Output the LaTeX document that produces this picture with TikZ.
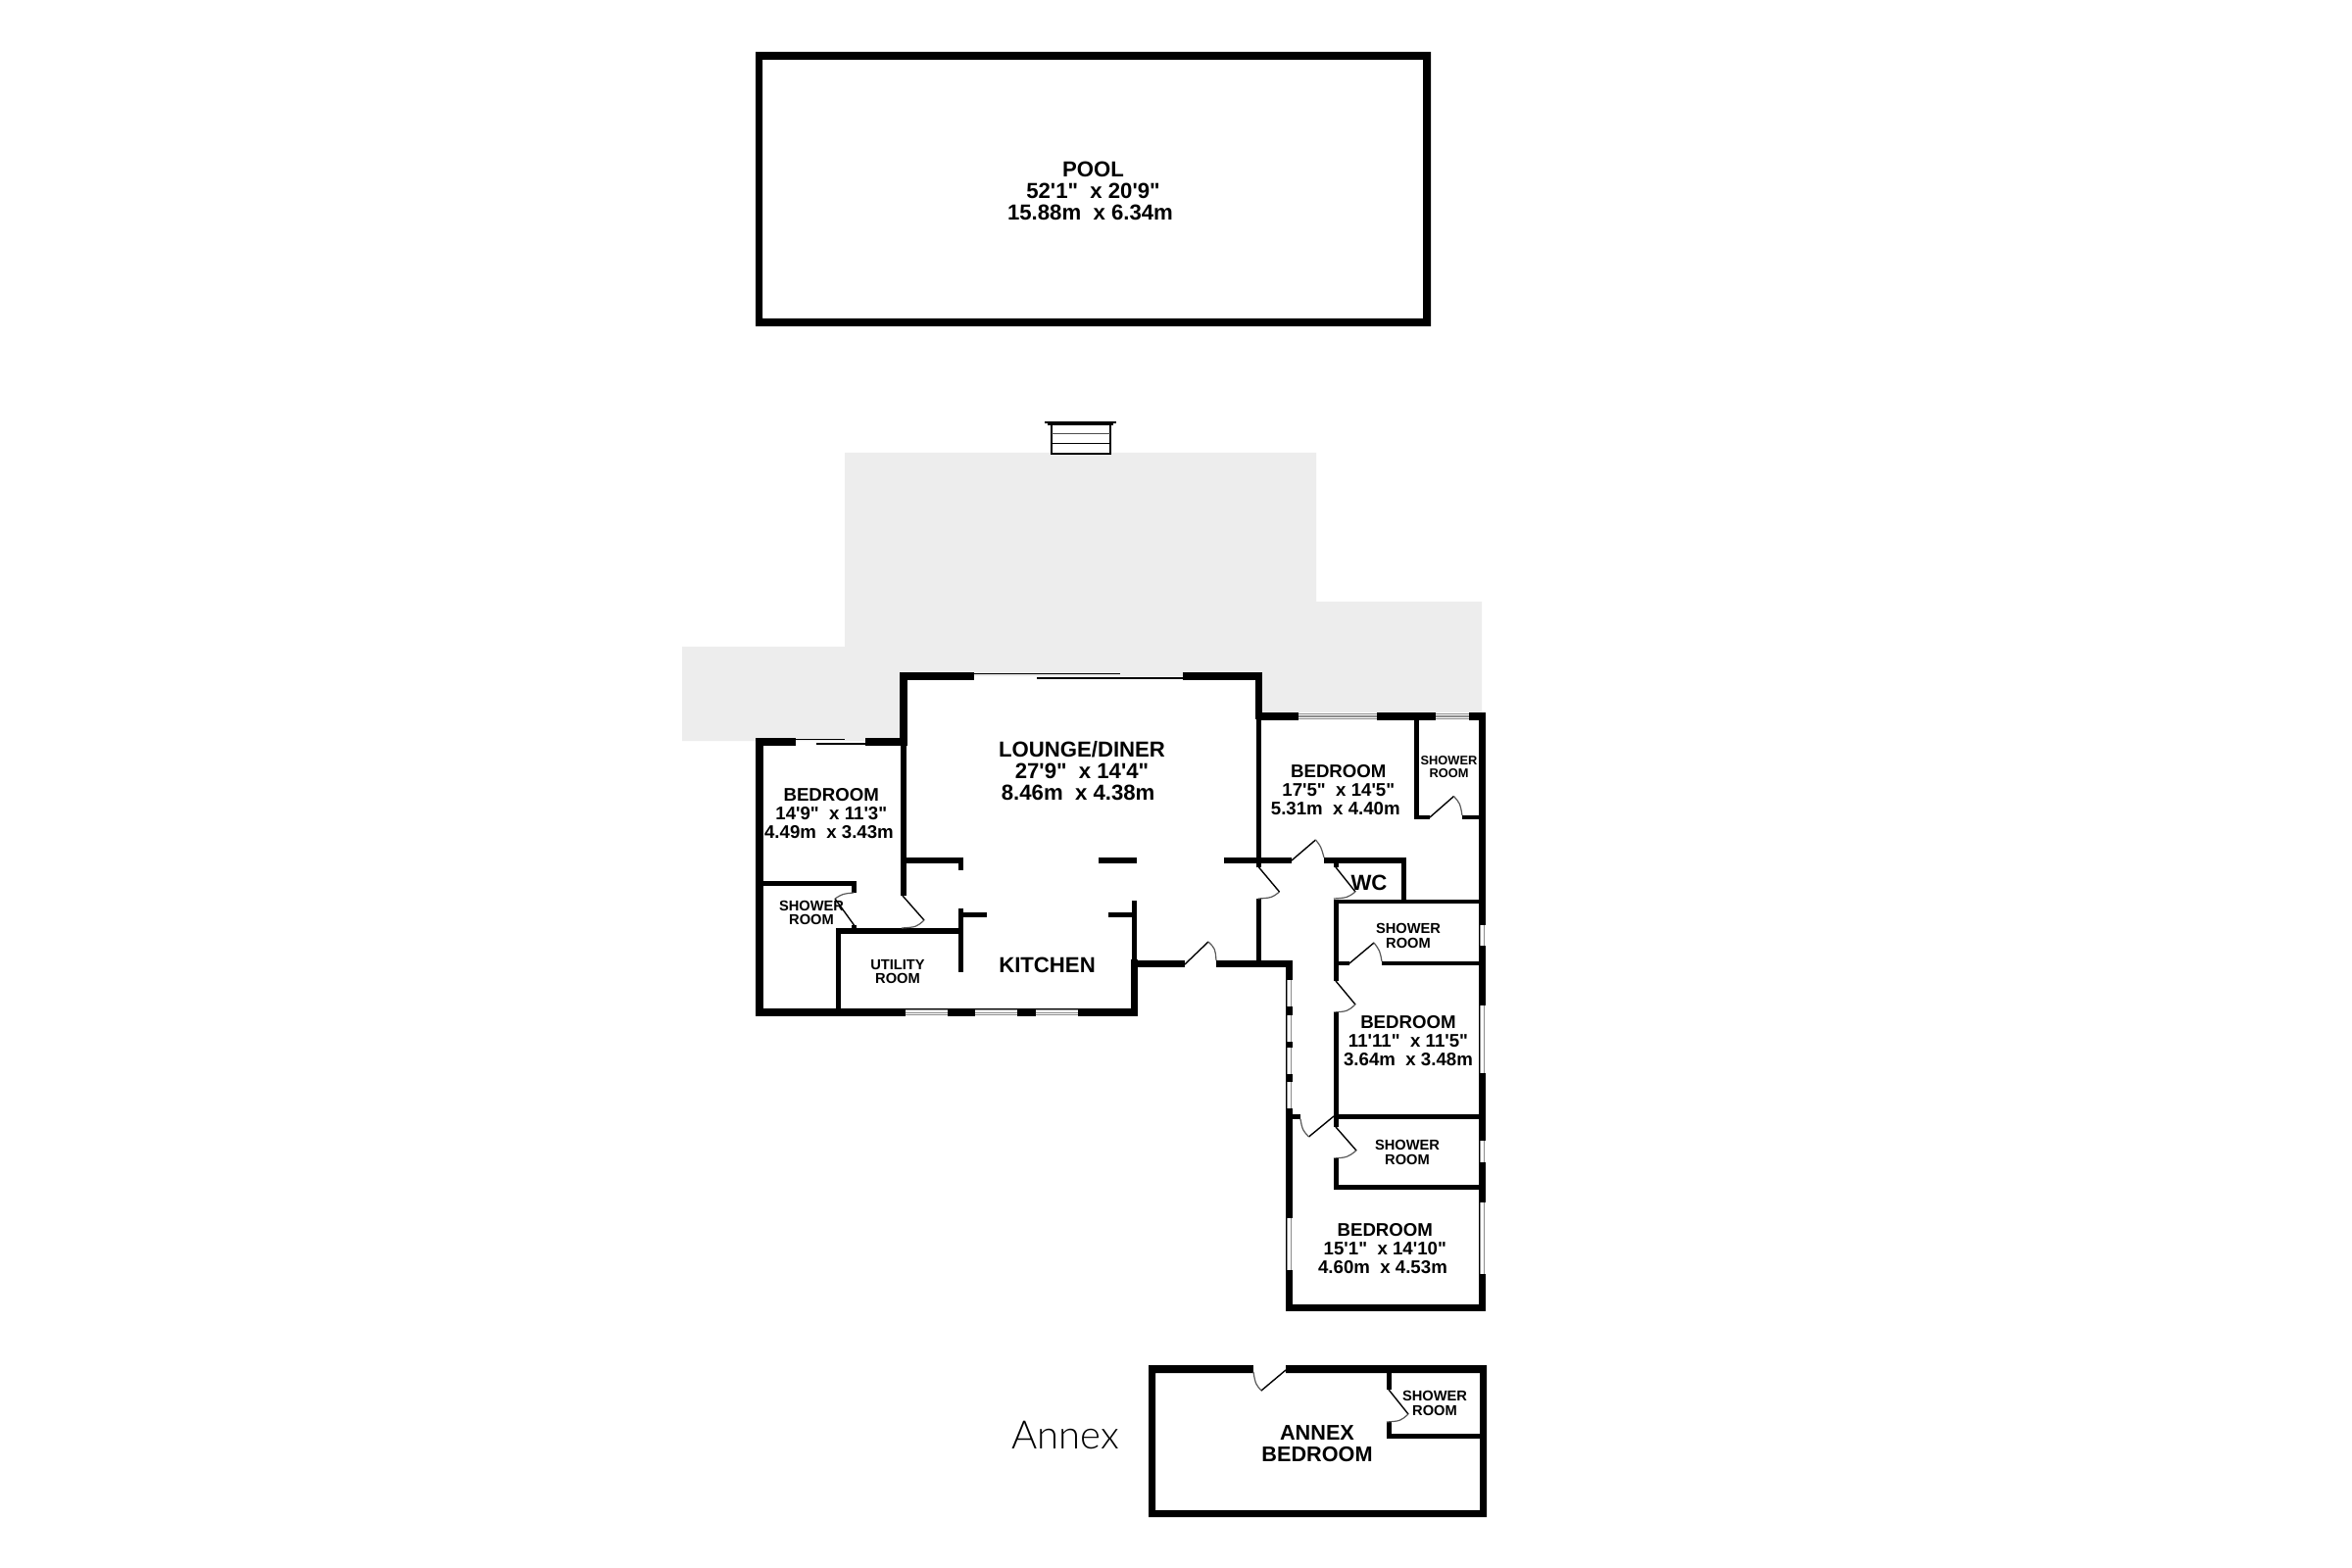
\documentclass[tikz,border=0pt]{standalone}
\usepackage{fontspec}
\newfontfamily\lab{Liberation Sans}
\newfontfamily\annexfont{Lato Light}
\definecolor{deck}{HTML}{EDEDED}
\definecolor{glass}{HTML}{8C8C8C}
% wall: x1 y1 x2 y2
\newcommand{\wl}[4]{\fill[black] (#1,#2) rectangle (#3,#4);}
% horizontal window: x1 x2 y1 y2
\newcommand{\winh}[4]{\fill[white] (#1,#3) rectangle (#2,#4);
  \draw[winline] (#1,#3+.6) -- (#2,#3+.6) (#1,{(#3+#4)/2}) -- (#2,{(#3+#4)/2}) (#1,#4-.6) -- (#2,#4-.6);}
% vertical window: y1 y2 x1 x2
\newcommand{\winv}[4]{\fill[white] (#3,#1) rectangle (#4,#2);
  \draw[winline] (#3+.6,#1) -- (#3+.6,#2) (#4-.6,#1) -- (#4-.6,#2);}
% door: hinge, tip, end, bulge control
\newcommand{\dr}[8]{\draw[doorleaf] (#1,#2) -- (#3,#4);
  \draw[doorarc] (#3,#4) .. controls (#7,#8) .. (#5,#6);}
% trailing pad that moves a centred line left
\newcommand{\tp}[1]{\hspace*{#1pt}}
\tikzset{
  winline/.style={glass,line width=.34pt},
  doorleaf/.style={black,line width=.42pt},
  doorarc/.style={black!65,line width=.36pt},
  slide/.style={black,line width=.42pt},
  lbl/.style={inner sep=0pt,align=center,text=black},
  big/.style={lbl,font=\lab\bfseries\fontsize{6.65}{6.6}\selectfont},
  lg/.style={lbl,font=\lab\bfseries\fontsize{5.6}{5.6}\selectfont},
  sm/.style={lbl,font=\lab\bfseries\fontsize{4.4}{4.45}\selectfont},
  xs/.style={lbl,font=\lab\bfseries\fontsize{3.85}{3.9}\selectfont},
  wc/.style={lbl,font=\lab\bfseries\fontsize{6.65}{6.5}\selectfont}
}
\begin{document}
\begin{tikzpicture}[x=0.3pt,y=-0.3pt]
\useasboundingbox (0,0) rectangle (2400,1600);
\fill[white] (0,0) rectangle (2400,1600);
% deck
\fill[deck] (696,660) -- (862,660) -- (862,462) -- (1343,462) -- (1343,614) -- (1512,614) -- (1512,730) -- (1284,730) -- (1284,690) -- (922,690) -- (922,756) -- (696,756) -- cycle;
% pool
\fill[black,even odd rule] (771,53) rectangle (1460,333) (778,61) rectangle (1452,325);
% steps
\fill[white] (1072,433) rectangle (1133,463);
\draw[black,line width=.5pt] (1073,433) rectangle (1133,462.7);
\draw[black!70,line width=.4pt] (1073,442.7) -- (1133,442.7);
\draw[black,line width=.4pt] (1073,452.7) -- (1133,452.7);
\wl{1066}{430}{1139}{432.5}
\wl{1069}{432}{1136}{434}
% left bedroom
\wl{771}{753}{812}{760.5}
\wl{883}{753}{926}{760.5}
\wl{771}{753}{778.5}{1037}
\wl{918.5}{686}{924.5}{914}
\draw[slide] (812,754.5) -- (862,754.5);
\draw[slide] (833,759) -- (883,759);
% lounge
\wl{918}{686}{994}{694}
\wl{1207}{686}{1288}{694}
\draw[slide] (994,687.5) -- (1143,687.5);
\draw[slide] (1058,692) -- (1207,692);
\wl{918}{686}{926}{760}
\wl{1281}{686}{1288}{734}
\wl{1282}{690}{1287}{885}
\wl{1282}{917}{1287}{987}
% lounge stubs
\wl{924}{875}{983}{881}
\wl{978}{875}{983}{888}
\wl{1121}{875}{1160}{881}
\wl{1248.5}{875}{1318}{880.5}
% kitchen
\wl{978}{927}{983}{992}
\wl{983}{931}{1007}{935.5}
\wl{1155}{919}{1160}{980}
\wl{1131}{931}{1155}{935.5}
\wl{1154}{979}{1161}{1037}
\wl{1161}{979.5}{1209}{987}
\wl{1241}{979.5}{1319}{987}
\wl{771}{1029}{1161}{1037}
\winh{923.5}{967}{1030}{1036.5}
\winh{994.5}{1038}{1030}{1036.5}
\winh{1056.5}{1100}{1030}{1036.5}
\dr{1209}{984}{1233}{961}{1241}{980}{1240}{968}
% utility and left shower
\wl{852.5}{947}{983}{952.5}
\wl{852.5}{947}{857.5}{1029}
\wl{778}{899}{874}{904}
\wl{869}{899}{874}{911}
\wl{869}{944}{874}{947}
\dr{871.5}{944}{852}{917}{871}{911}{860}{912}
\dr{921}{914}{943}{939}{920}{947}{935}{946}
% right bedroom
\wl{1282}{727}{1325}{735}
\winh{1325}{1405}{727.5}{734.5}
\wl{1405}{727}{1465}{735}
\winh{1465}{1499}{727.5}{734.5}
\wl{1499}{727}{1516}{735}
\wl{1509}{727}{1516}{1338}
\wl{1443}{727}{1448}{836}
\wl{1443}{832}{1459}{836}
\wl{1491.5}{832}{1510}{836}
\dr{1459}{834}{1483.5}{812.5}{1492}{832}{1490}{820}
% bedroom door + wc
\dr{1318}{878}{1342.5}{857}{1351}{875}{1348}{864}
\wl{1351}{875}{1434}{880.5}
\wl{1430}{875}{1434.5}{922}
\wl{1361}{875}{1365.5}{885}
\dr{1363}{885}{1383}{910}{1361}{917}{1375}{916}
\dr{1284.5}{885}{1305.5}{910}{1284}{917}{1298}{916}
% shower 2
\wl{1361}{918}{1516}{922}
\wl{1361}{918}{1365.5}{1001}
\winv{944}{965}{1509.5}{1515.5}
\wl{1361}{981}{1377}{985}
\wl{1410}{981}{1510}{985}
\dr{1377}{983}{1402}{962}{1410}{981}{1408}{970}
% bedroom 2
\dr{1363}{1001}{1383}{1025}{1361}{1033}{1375}{1032}
\wl{1361}{1033}{1365.5}{1150}
\wl{1361}{1137}{1516}{1142}
\winv{1026}{1095}{1509.5}{1515.5}
% shower 3
\dr{1363}{1150}{1384}{1174}{1361}{1182}{1375}{1181}
\wl{1361}{1182}{1365.5}{1214}
\wl{1361}{1209}{1510}{1214}
\winv{1164}{1186}{1509.5}{1515.5}
\winv{1227}{1300}{1509.5}{1515.5}
% corridor left wall
\wl{1312}{980}{1319}{1338}
\winv{1000}{1027}{1312.5}{1318.5}
\winv{1036}{1063}{1312.5}{1318.5}
\winv{1069}{1096}{1312.5}{1318.5}
\winv{1104}{1131}{1312.5}{1318.5}
\winv{1243}{1296}{1312.5}{1318.5}
\wl{1319}{1137}{1327}{1142}
\dr{1361}{1139}{1335.5}{1160}{1327}{1142}{1329}{1153}
\wl{1312}{1331}{1516}{1338}
% annex
\fill[black,even odd rule] (1172,1393) rectangle (1517,1548) (1179,1401) rectangle (1510,1541);
\fill[white] (1279,1392) rectangle (1312,1402);
\dr{1312}{1398}{1287}{1419}{1279}{1400}{1281}{1412}
\wl{1415}{1400}{1419.5}{1418}
\wl{1415}{1451}{1419.5}{1468}
\wl{1415}{1463}{1511}{1468}
\dr{1417}{1418}{1437}{1443}{1415}{1451}{1429}{1450}
% labels
\node[big] (pool) at (1115.5,195) {POOL\\52'1"\ \ x 20'9"\tp{1.8}\\15.88m\ \ x 6.34m\tp{1.8}};
\node[big] (lounge) at (1104,786.5) {LOUNGE/DINER\\27'9"\ \ x 14'4"\tp{2.3}\\8.46m\ \ x 4.38m\tp{2.3}};
\node[lg] (bedl) at (848.3,830) {BEDROOM\\14'9"\ \ x 11'3"\tp{1.4}\\4.49m\ \ x 3.43m\tp{1.4}};
\node[sm] (showl) at (828,931.5) {SHOWER\\ROOM};
\node[sm] (util) at (916,991.5) {UTILITY\\ROOM};
\node[wc] (kitchen) at (1068.5,985) {KITCHEN};
\node[lg] (bedr) at (1365.8,806) {BEDROOM\\17'5"\ \ x 14'5"\tp{1.8}\\5.31m\ \ x 4.40m\tp{1.8}};
\node[xs] (showe) at (1478.5,783) {SHOWER\\ROOM};
\node[wc] (wcl) at (1397,900.5) {WC};
\node[sm] (show2) at (1437,955) {SHOWER\\ROOM};
\node[lg] (bed2) at (1437,1062) {BEDROOM\\11'11"\ \ x 11'5"\\3.64m\ \ x 3.48m};
\node[sm] (show3) at (1436,1176) {SHOWER\\ROOM};
\node[lg] (bed3) at (1413.3,1274) {BEDROOM\\15'1"\ \ x 14'10"\tp{1.4}\\4.60m\ \ x 4.53m\tp{1.4}};
\node[lbl,font=\lab\bfseries\fontsize{6.5}{6.4}\selectfont] (annexb) at (1344,1473) {ANNEX\\BEDROOM};
\node[sm] (showa) at (1464,1432) {SHOWER\\ROOM};
\node[lbl,font=\annexfont\fontsize{12}{12}\selectfont] (annex) at (1087.5,1464) {Annex};
\end{tikzpicture}
\end{document}
